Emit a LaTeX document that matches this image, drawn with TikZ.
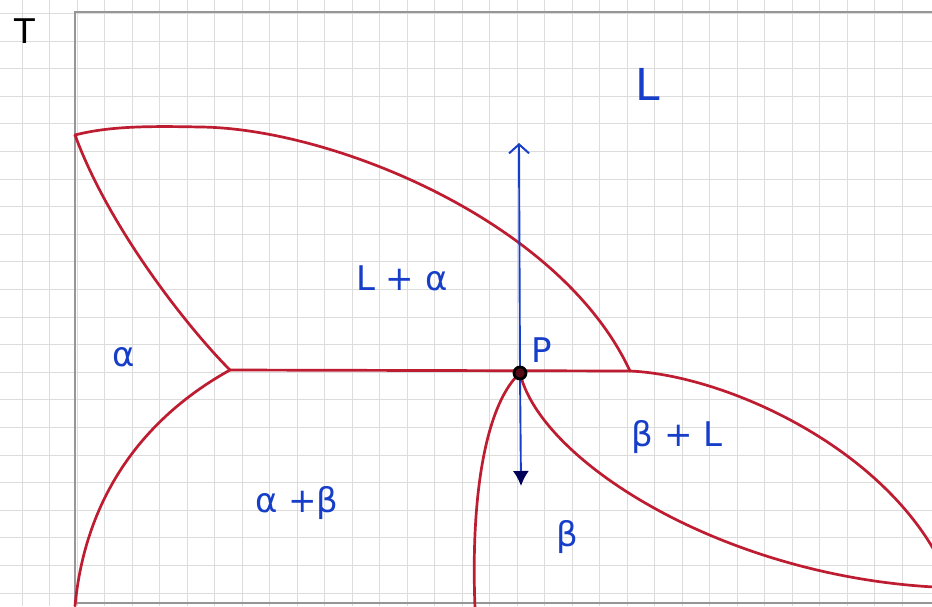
\documentclass[tikz,border=0pt]{standalone}
\usepackage{fontspec}
\setmainfont{DejaVu Sans}
\usetikzlibrary{arrows.meta}
\definecolor{phred}{RGB}{190,28,48}
\definecolor{inkblue}{RGB}{22,62,200}
\definecolor{gridgray}{RGB}{220,220,220}
\definecolor{axisgray}{RGB}{150,150,150}
\tikzset{
  phase/.style={draw=phred, line width=2.7pt, line cap=round, line join=round},
  lbl/.style={text=inkblue, inner sep=0pt, font=\fontsize{34}{40}\selectfont},
  gridline/.style={draw=gridgray, line width=1pt},
  axisline/.style={draw=axisgray, line width=1.3pt}
}
\begin{document}
\begin{tikzpicture}[x=1pt,y=-1pt]
\useasboundingbox (0,0) rectangle (932,606);
\fill[white] (0,0) rectangle (932,606);
% grid paper
\foreach \i in {0,...,33} { \draw[gridline] ({22+27.5*(\i-1)},0) -- ({22+27.5*(\i-1)},606); }
\foreach \j in {0,...,21} { \draw[gridline] (0,{13.4+27.6*\j}) -- (932,{13.4+27.6*\j}); }
% axes
\coordinate (o) at (75,606);
\coordinate (ytop) at (75,12);
\coordinate (xend) at (932,12);
\coordinate (bstart) at (75,603);
\coordinate (bend) at (932,603);
\draw[axisline] (o) -- (ytop) -- (xend);
\draw[axisline] (bstart) -- (bend);
% key points
\coordinate (A) at (75,135);
\coordinate (M) at (200,127);
\coordinate (E) at (230,370);
\coordinate (P) at (520,373);
\coordinate (R) at (630,371);
\coordinate (Bo) at (75,606);
\coordinate (Rt) at (934,550);
\coordinate (Rb) at (934,587);
\coordinate (Sb) at (475,608);
% liquidus (alpha side)
\draw[phase] (A) .. controls (110,126) and (150,126) .. (M)
                 .. controls (330,128) and (560,220) .. (R);
% solidus alpha
\draw[phase] (A) .. controls (110,230) and (190,330) .. (E);
% peritectic horizontal
\draw[phase] (E) -- (R);
% beta + L upper boundary
\draw[phase] (R) .. controls (720,375) and (870,440) .. (Rt);
% alpha solvus
\draw[phase] (E) .. controls (140,420) and (85,500) .. (Bo);
% beta + L lower boundary
\draw[phase] (P) .. controls (540,460) and (720,575) .. (Rb);
% beta solvus
\draw[phase] (P) .. controls (490,400) and (470,480) .. (Sb);
% arrows
\coordinate (up) at (519,143);
\coordinate (down) at (521,486);
\draw[draw=inkblue, line width=1.9pt, -{Straight Barb[length=9pt,width=20pt,line width=2pt]}] (P) -- (up);
\draw[draw=inkblue, line width=1.9pt, -{Latex[length=15pt,width=16pt,color=black!65!blue]}] (P) -- (down);
% point P
\draw[black, line width=2.8pt, fill=phred!45!black] (P) circle (6pt);
% labels
\node[text=black, inner sep=0pt, font=\fontsize{34}{40}\selectfont] (T) at (25,31) {T};
\node[lbl] (Pl) at (542,350) {P};
\node[lbl, font=\fontsize{44}{50}\selectfont] (L) at (648,84) {L};
\node[lbl] (La) at (402,278) {L + α};
\node[lbl] (al) at (124,357) {α};
\node[lbl] (ab) at (297,503) {α +β};
\node[lbl] (bL) at (677,437) {β + L};
\node[lbl] (be) at (567,537) {β};
\end{tikzpicture}
\end{document}
